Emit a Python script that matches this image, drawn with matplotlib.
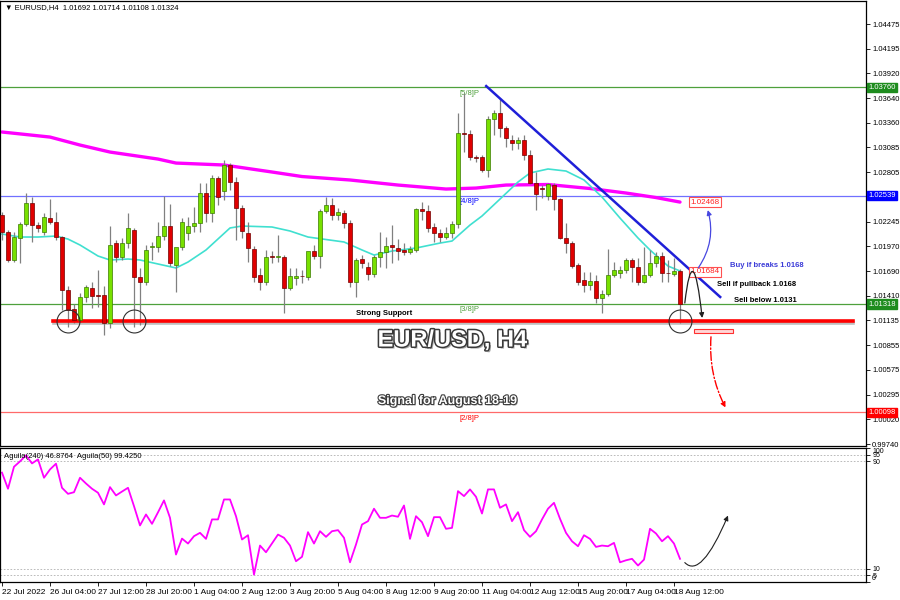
import matplotlib
matplotlib.use("Agg")
import matplotlib.pyplot as plt
import matplotlib.patheffects as pe
from matplotlib.patches import FancyArrowPatch, Rectangle
from matplotlib.path import Path
from matplotlib.transforms import blended_transform_factory

plt.rcParams['font.family'] = ['Liberation Sans', 'DejaVu Sans']

# H4 candles, 22 Jul 20:00 -> 18 Aug 16:00
opens = [1.02322, 1.02130, 1.01815, 1.02063, 1.02221, 1.02457, 1.02209, 1.02130, 1.02288, 1.02243,
         1.02074, 1.01476, 1.01262, 1.01138, 1.01398, 1.01499, 1.01420, 1.01420, 1.01105, 1.02006,
         1.01849, 1.02006, 1.02153, 1.01623, 1.01567, 1.01961, 1.01961, 1.02085, 1.02198, 1.01758,
         1.01961, 1.02119, 1.02198, 1.02232, 1.02570, 1.02345, 1.02739, 1.02593, 1.02886, 1.02694,
         1.02401, 1.02119, 1.01939, 1.01646, 1.01567, 1.01860, 1.01849, 1.01849, 1.01499, 1.01612,
         1.01634, 1.01623, 1.01916, 1.01860, 1.02367, 1.02435, 1.02322, 1.02345, 1.02232, 1.01567,
         1.01826, 1.01736, 1.01657, 1.01849, 1.01905, 1.01984, 1.01950, 1.01927, 1.01905, 1.01927,
         1.02390, 1.02367, 1.02187, 1.02119, 1.02074, 1.02119, 1.02221, 1.03247, 1.03235, 1.02976,
         1.02976, 1.02829, 1.03404, 1.03472, 1.03303, 1.03168, 1.03134, 1.03168, 1.02999, 1.02683,
         1.02627, 1.02536, 1.02660, 1.02502, 1.02063, 1.02006, 1.01758, 1.01589, 1.01533, 1.01578,
         1.01386, 1.01431, 1.01646, 1.01668, 1.01702, 1.01815, 1.01736, 1.01567, 1.01646, 1.01781,
         1.01860, 1.01668, 1.01657, 1.01692]
highs = [1.02356, 1.02153, 1.02130, 1.02243, 1.02570, 1.02525, 1.02243, 1.02345, 1.02502, 1.02356,
         1.02085, 1.01522, 1.01319, 1.01443, 1.01533, 1.01567, 1.01702, 1.01522, 1.02198, 1.02040,
         1.02063, 1.02345, 1.02176, 1.01725, 1.01984, 1.02018, 1.02243, 1.02536, 1.02446, 1.01837,
         1.02288, 1.02300, 1.02412, 1.02683, 1.02683, 1.02776, 1.02762, 1.02942, 1.02908, 1.02751,
         1.02435, 1.02243, 1.01972, 1.01725, 1.01927, 1.01916, 1.02097, 1.01871, 1.01725, 1.01725,
         1.01702, 1.01792, 1.01984, 1.02390, 1.02525, 1.02514, 1.02401, 1.02378, 1.02266, 1.01837,
         1.01871, 1.01792, 1.01871, 1.02130, 1.02074, 1.02209, 1.02051, 1.02006, 1.01972, 1.02401,
         1.02469, 1.02435, 1.02232, 1.02164, 1.02187, 1.02254, 1.03472, 1.03698, 1.03280, 1.02999,
         1.02999, 1.03438, 1.03506, 1.03641, 1.03325, 1.03224, 1.03201, 1.03224, 1.03055, 1.02807,
         1.02660, 1.02683, 1.02683, 1.02514, 1.02232, 1.02029, 1.01781, 1.01680, 1.01680, 1.01646,
         1.01476, 1.01939, 1.01792, 1.01747, 1.01837, 1.01837, 1.01837, 1.01961, 1.01927, 1.01905,
         1.01905, 1.01815, 1.01837, 1.01714]
lows = [1.02040, 1.01792, 1.01792, 1.01781, 1.02198, 1.02018, 1.02130, 1.02097, 1.02221, 1.02040,
        1.01251, 1.01060, 1.01105, 1.01116, 1.01341, 1.01274, 1.01285, 1.00969, 1.01048, 1.01792,
        1.01815, 1.01950, 1.01060, 1.01082, 1.01533, 1.01815, 1.01905, 1.02040, 1.01747, 1.01454,
        1.01927, 1.02040, 1.02130, 1.02130, 1.02243, 1.02243, 1.02435, 1.02491, 1.02604, 1.02040,
        1.02063, 1.01792, 1.01567, 1.01476, 1.01533, 1.01781, 1.01792, 1.01217, 1.01476, 1.01533,
        1.01555, 1.01589, 1.01826, 1.01725, 1.02345, 1.02266, 1.02266, 1.02176, 1.01510, 1.01398,
        1.01725, 1.01589, 1.01623, 1.01736, 1.01725, 1.01781, 1.01815, 1.01871, 1.01882, 1.01905,
        1.02266, 1.02130, 1.02018, 1.02018, 1.02051, 1.02063, 1.02176, 1.03032, 1.02942, 1.02920,
        1.02807, 1.02751, 1.03224, 1.03201, 1.03089, 1.03055, 1.03066, 1.02942, 1.02672, 1.02378,
        1.02514, 1.02491, 1.02378, 1.02051, 1.01894, 1.01725, 1.01533, 1.01454, 1.01476, 1.01330,
        1.01217, 1.01409, 1.01623, 1.01612, 1.01668, 1.01567, 1.01533, 1.01555, 1.01623, 1.01736,
        1.01567, 1.01567, 1.01634, 1.01108]
closes = [1.02130, 1.01815, 1.02074, 1.02221, 1.02457, 1.02209, 1.02176, 1.02300, 1.02243, 1.02074,
          1.01476, 1.01251, 1.01138, 1.01398, 1.01510, 1.01409, 1.01412, 1.01105, 1.01984, 1.01849,
          1.02006, 1.02176, 1.01623, 1.01567, 1.01927, 1.01972, 1.02085, 1.02198, 1.01781, 1.01961,
          1.02243, 1.02198, 1.02232, 1.02570, 1.02345, 1.02739, 1.02525, 1.02886, 1.02694, 1.02401,
          1.02142, 1.01950, 1.01623, 1.01567, 1.01849, 1.01849, 1.01860, 1.01499, 1.01634, 1.01634,
          1.01630, 1.01916, 1.01860, 1.02367, 1.02435, 1.02322, 1.02356, 1.02232, 1.01567, 1.01815,
          1.01781, 1.01657, 1.01849, 1.01905, 1.01972, 1.01961, 1.01916, 1.01905, 1.01939, 1.02390,
          1.02367, 1.02176, 1.02119, 1.02074, 1.02119, 1.02221, 1.03247, 1.03235, 1.02976, 1.02965,
          1.02829, 1.03404, 1.03472, 1.03303, 1.03190, 1.03134, 1.03168, 1.02999, 1.02683, 1.02559,
          1.02615, 1.02672, 1.02502, 1.02063, 1.02006, 1.01747, 1.01567, 1.01533, 1.01578, 1.01386,
          1.01431, 1.01646, 1.01702, 1.01702, 1.01815, 1.01736, 1.01567, 1.01646, 1.01781, 1.01860,
          1.01668, 1.01663, 1.01691, 1.01324]

# moving averages (bar index, price)
ma_fast_idx = [0, 3, 6, 9, 11, 13, 16, 18, 21, 23, 26, 29, 31, 34, 38, 40, 45, 48, 51, 57,
               60, 62, 65, 69, 73, 75, 78, 80, 83, 86, 88, 91, 94, 97, 100, 103, 106, 108, 111, 113]
ma_fast = [1.02108, 1.02074, 1.02074, 1.02085, 1.02051, 1.01984, 1.01860, 1.01815, 1.01826, 1.01815,
           1.01770, 1.01725, 1.01792, 1.01928, 1.02176, 1.02198, 1.02187, 1.02142, 1.02074, 1.02018,
           1.01928, 1.01871, 1.01916, 1.01950, 1.02006, 1.02029, 1.02209, 1.02311, 1.02502, 1.02694,
           1.02796, 1.02841, 1.02818, 1.02717, 1.02525, 1.02288, 1.02063, 1.01928, 1.01747, 1.01691]
ma_slow_idx = [0, 8, 13, 18, 26, 29, 37, 45, 50, 58, 66, 74, 79, 84, 91, 98, 104, 109, 113]
ma_slow = [1.03258, 1.03201, 1.03111, 1.03032, 1.02953, 1.02908, 1.02886, 1.02807, 1.02756, 1.02717,
           1.02660, 1.02615, 1.02626, 1.02660, 1.02666, 1.02621, 1.02570, 1.02519, 1.02468]

# Aguila(240) oscillator, one value per bar
aguila = [81.6, 69.6, 86.0, 90.0, 94.5, 88.5, 91.5, 77.8, 84.0, 88.3,
          70.3, 65.8, 67.0, 77.8, 73.5, 69.6, 66.6, 57.9, 70.8, 64.6,
          67.5, 70.3, 56.6, 42.2, 50.4, 43.4, 52.0, 60.9, 47.9, 20.5,
          32.4, 28.7, 34.2, 36.7, 32.2, 46.7, 46.7, 61.6, 61.6, 49.1,
          31.7, 34.9, 5.5, 27.2, 22.2, 28.8, 35.4, 33.0, 27.2, 15.5,
          18.8, 37.2, 28.7, 37.9, 33.7, 37.9, 38.7, 33.0, 14.7, 28.0,
          42.9, 45.4, 54.7, 47.9, 47.9, 49.6, 48.7, 57.1, 32.2, 49.1,
          44.6, 34.2, 48.4, 48.4, 39.7, 40.4, 67.8, 64.1, 69.1, 63.6,
          51.1, 69.1, 69.1, 55.4, 57.9, 45.4, 52.1, 38.7, 33.7, 37.9,
          46.7, 54.7, 59.1, 47.2, 36.7, 30.4, 26.7, 34.9, 32.2, 26.2,
          27.2, 26.7, 29.2, 14.7, 16.2, 17.3, 12.3, 16.7, 39.7, 36.2,
          30.4, 34.2, 28.7, 17.3]

date_labels = ["22 Jul 2022", "26 Jul 04:00", "27 Jul 12:00", "28 Jul 20:00", "1 Aug 04:00",
               "2 Aug 12:00", "3 Aug 20:00", "5 Aug 04:00", "8 Aug 12:00", "9 Aug 20:00",
               "11 Aug 04:00", "12 Aug 12:00", "15 Aug 20:00", "17 Aug 04:00", "18 Aug 12:00"]
price_ticks = [1.04475, 1.04195, 1.03920, 1.03640, 1.03360, 1.03085, 1.02805, 1.02245, 1.01970,
               1.01690, 1.01410, 1.01135, 1.00855, 1.00575, 1.00295, 1.00020, 0.99740]

# horizontal levels (price, line colour, box colour, murrey label)
levels = [(1.03760, '#4ea03c', '#1e8c1e', '[5/8]P'),
          (1.02539, '#7070ff', '#0000ff', '[4/8]P'),
          (1.01318, '#4ea03c', '#1e8c1e', '[3/8]P'),
          (1.00098, '#ff6a6a', '#ff0000', '[2/8]P')]
support = 1.01127
buy_level = 1.01684
target = 1.02468

n = len(opens)
x = list(range(n))

fig = plt.figure(figsize=(9, 6), dpi=100)
ax = fig.add_axes([0.0, 154 / 600, 866 / 900, 445 / 600])
ax2 = fig.add_axes([0.0, 18 / 600, 866 / 900, 134 / 600])

xmin, xmax = -1 / 3, 144
ax.set_xlim(xmin, xmax)
ax.set_ylim(0.99718, 1.04735)
ax2.set_xlim(xmin, xmax)
ax2.set_ylim(0, 100)

yx = blended_transform_factory(ax.transAxes, ax.transData)

# levels
for lv, lc, bc, lab in levels:
    ax.axhline(lv, color=lc, lw=0.9, zorder=1)
    ax.text(1.003, lv, f"{lv:.5f}", transform=yx, fontsize=5.5, color='white',
            va='center', ha='left', zorder=6,
            bbox=dict(boxstyle='square,pad=0.15', fc=bc, ec=bc), clip_on=False)
    ax.text(76.3, lv - 0.00025, lab, fontsize=5.5, color=bc if bc != '#1e8c1e' else '#4ea03c',
            va='top', ha='left', zorder=3)

# moving averages
ax.plot(ma_slow_idx, ma_slow, color='#ff00ff', lw=2.4, zorder=2, solid_capstyle='round')
ax.plot(ma_fast_idx, ma_fast, color='#40e0d0', lw=1.2, zorder=2)

# candles
ax.vlines(x, lows, highs, color='#808080', lw=0.9, zorder=3)
for i in x:
    o, c = opens[i], closes[i]
    lo, hi = min(o, c), max(o, c)
    if hi - lo < 0.00004:
        ax.hlines((o + c) / 2, i - 0.3, i + 0.3, color='#202020', lw=1.2, zorder=4)
        continue
    if c > o:
        fc, ec = '#78e000', '#3a7a00'
    else:
        fc, ec = '#e00000', '#700000'
    ax.bar(i, hi - lo, bottom=lo, width=0.58, color=fc, edgecolor=ec, lw=0.5, zorder=4)

# strong support
ax.plot([8.5, 141.8], [support, support], color='#ff0000', lw=2.6, zorder=3,
        path_effects=[pe.SimpleLineShadow(offset=(0.5, -1.5), shadow_color='gray', alpha=0.5),
                      pe.Normal()])
ax.text(63.75, support + 0.0009, 'Strong Support', fontsize=5.5, fontweight='bold',
        ha='center', va='center', zorder=5)
for ci in [11, 22, n - 1]:
    ax.plot(ci, support, 'o', ms=16.5, mfc='none', mec='#303030', mew=0.8, zorder=5)

# trend line
ax.plot([80.7, 119.7], [1.03776, 1.01398], color='#1f1fd8', lw=1.8, zorder=5)

# price boxes
for val in [target, buy_level]:
    ax.text(114.7, val, f"{val:.5f}", fontsize=5.8, color='#ff2020', va='center', ha='left',
            zorder=6, bbox=dict(boxstyle='square,pad=0.2', fc='white', ec='#ff5050', lw=0.8))

# arrows
ax.add_patch(FancyArrowPatch((115.8, 1.01702), (117.5, target - 0.0006),
                             connectionstyle='arc3,rad=0.25', arrowstyle='-|>',
                             mutation_scale=7, color='#4848e0', lw=0.9, zorder=6))
p0, p2 = (113.8, 1.01330), (116.7, 1.01161)
ax.add_patch(FancyArrowPatch(path=Path([p0, (115.15, 1.02114), p2],
                                       [Path.MOVETO, Path.CURVE3, Path.CURVE3]),
                             arrowstyle='-|>', mutation_scale=7, color='#202020', lw=0.9, zorder=6))
ax.add_patch(Rectangle((115.3, 1.00992), 6.5, 0.00045, fc='#ffd6d6', ec='#ff3030', lw=0.8,
                       zorder=5, path_effects=[pe.withSimplePatchShadow(offset=(1, -1), alpha=0.4)]))
ax.add_patch(FancyArrowPatch((118.2, 1.00980), (120.8, 1.00124),
                             connectionstyle='arc3,rad=0.15', arrowstyle='-|>',
                             mutation_scale=7, color='#ff0000', lw=1.0, linestyle='-.', zorder=6))

# trade notes
ax.text(121.3, 1.01758, 'Buy if breaks 1.0168', fontsize=5.5, fontweight='bold', color='#3c3cd8',
        va='center', ha='left')
ax.text(119.2, 1.01544, 'Sell if pullback 1.0168', fontsize=5.5, fontweight='bold',
        va='center', ha='left')
ax.text(122.0, 1.01364, 'Sell below 1.0131', fontsize=5.5, fontweight='bold',
        va='center', ha='left')

# title texts
emboss = [pe.SimplePatchShadow(offset=(1.5, -1.5), shadow_rgbFace='#777777', alpha=0.6),
          pe.withStroke(linewidth=2.2, foreground='#3a3a3a')]
ax.text(75.1, 1.00913, 'EUR/USD, H4', fontsize=17, fontweight='bold', color='white',
        ha='center', va='center', zorder=7, path_effects=emboss)
ax.text(74.25, 1.00225, 'Signal for August 18-19', fontsize=9, fontweight='bold', color='white',
        ha='center', va='center', zorder=7,
        path_effects=[pe.SimplePatchShadow(offset=(1, -1), shadow_rgbFace='#777777', alpha=0.6),
                      pe.withStroke(linewidth=1.6, foreground='#3a3a3a')])

ax.text(0.006, 0.985, f"\u25bc EURUSD,H4  {opens[-1]:.5f} {highs[-1]:.5f} {lows[-1]:.5f} {closes[-1]:.5f}",
        transform=ax.transAxes, fontsize=5.5, va='center', ha='left')

# price axis
ax.yaxis.tick_right()
ax.set_yticks(price_ticks)
ax.set_yticklabels([f"{v:.5f}" for v in price_ticks])
ax.tick_params(axis='y', direction='out', length=3, width=0.6, labelsize=5.5, pad=1.5)
ax.set_xticks([])
for s in ax.spines.values():
    s.set_linewidth(0.9)

# indicator panel
for lv in [95, 90, 10, 5]:
    ax2.axhline(lv, color='#b0b0b0', lw=0.6, ls=(0, (2, 2)))
ax2.plot(range(len(aguila)), aguila, color='#ff00ff', lw=1.3)
ax2.add_patch(FancyArrowPatch(path=Path([(113.8, 14.5), (116.5, 2.0), (121.0, 49.6)],
                                        [Path.MOVETO, Path.CURVE3, Path.CURVE3]),
                              arrowstyle='-|>', mutation_scale=7, color='#202020', lw=0.8))
ax2.text(0.005, 0.94, 'Aguila(240) 46.8764  Aguila(50) 99.4250', transform=ax2.transAxes,
         fontsize=5.5, va='center', ha='left')
ax2.yaxis.tick_right()
ax2.set_yticks([0, 5, 10, 90, 95, 100])
ax2.set_yticklabels(['0', '5', '10', '90', '95', '100'])
ax2.tick_params(axis='y', direction='out', length=3, width=0.6, labelsize=5, pad=1.5)
for lab in ax2.get_yticklabels():
    if lab.get_text() == '100':
        lab.set_va('top')
    elif lab.get_text() == '0':
        lab.set_va('bottom')
ax2.set_xticks(range(0, n, 8))
ax2.set_xticklabels(date_labels, ha='left')
ax2.tick_params(axis='x', direction='out', length=3, width=0.6, labelsize=6, pad=2)
for s in ax2.spines.values():
    s.set_linewidth(0.9)

fig.savefig('out.png', dpi=100, facecolor='white')
